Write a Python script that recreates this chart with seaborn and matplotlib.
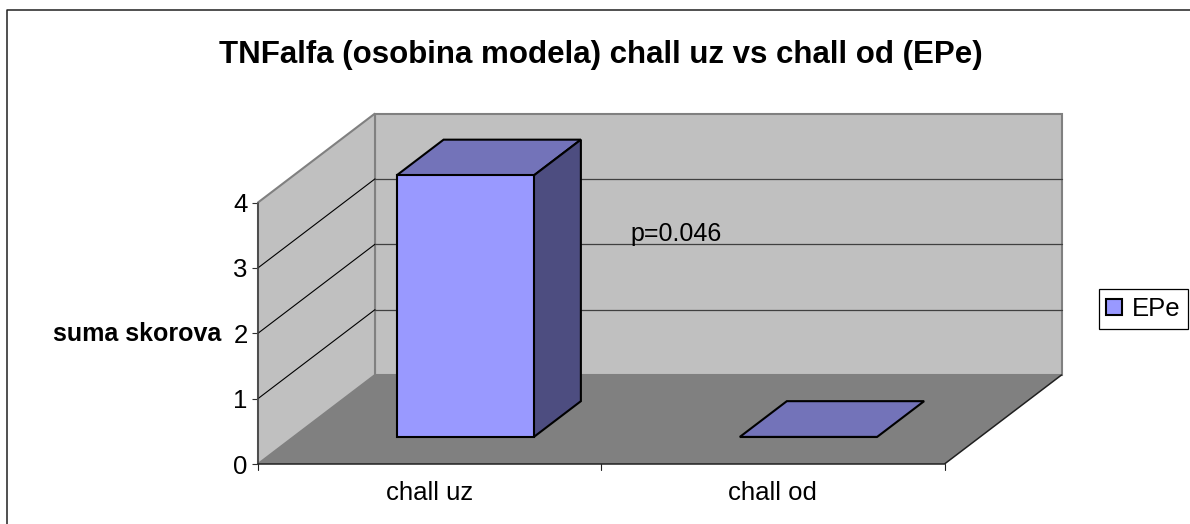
import matplotlib
matplotlib.use("Agg")
import matplotlib.pyplot as plt
from matplotlib.patches import Polygon, Rectangle
from matplotlib.lines import Line2D
from matplotlib.transforms import Affine2D
import seaborn as sns
import pandas as pd

categories = ["chall uz", "chall od"]
series_name = "EPe"
values = [4, 0]
y_ticks = [0, 1, 2, 3, 4]
title = "TNFalfa (osobina modela) chall uz vs chall od (EPe)"
y_label = "suma skorova"
note = "p=0.046"

W, H = 1190, 524
sns.set_theme(style="white")
plt.rcParams["font.family"] = ["Liberation Sans", "DejaVu Sans"]
fig = plt.figure(figsize=(W / 100, H / 100), dpi=100, facecolor="white")

# front plane of the 3D box, in pixels
L, R, B, T = 258, 944.5, 464, 202.5
ax = fig.add_axes([L / W, 1 - B / H, (R - L) / W, (B - T) / H])
ax.patch.set_alpha(0)
for s in ax.spines.values():
    s.set_visible(False)

df = pd.DataFrame({"cat": categories, "val": values, "series": series_name})
BAR_W = 0.4
sns.barplot(data=df, x="cat", y="val", color="#9999ff", saturation=1, width=BAR_W,
            edgecolor="black", linewidth=1.5, ax=ax, zorder=5, errorbar=None, legend=False)
ax.set_xlim(-0.5, 1.5)
ax.set_ylim(0, 4)

px_x = (R - L) / 2          # px per category
px_y = (B - T) / 4          # px per value
DX, DY = 117 / px_x, 89 / px_y   # box depth in data units
d0, d1 = 0.304, 0.706       # bar's front and back depth fraction


def pt(x, y, d):
    return (x + DX * d, y + DY * d)


def poly(points, fc, ec="none", lw=0, z=1):
    ax.add_patch(Polygon(points, closed=True, facecolor=fc, edgecolor=ec, linewidth=lw,
                         zorder=z, clip_on=False, joinstyle="miter"))


bars = [p for p in ax.patches if isinstance(p, Rectangle)]

x0, x1 = -0.5, 1.5
ytop = max(y_ticks)
# back wall, left wall, floor
poly([pt(x0, 0, 1), pt(x1, 0, 1), pt(x1, ytop, 1), pt(x0, ytop, 1)], "#c0c0c0", "#808080", 1.5, 1)
poly([pt(x0, 0, 0), pt(x0, 0, 1), pt(x0, ytop, 1), pt(x0, ytop, 0)], "#c0c0c0", "#808080", 1.5, 1.1)
poly([pt(x0, 0, 0), pt(x1, 0, 0), pt(x1, 0, 1), pt(x0, 0, 1)], "#808080", z=1.2)

# gridlines
for v in y_ticks[1:-1]:
    ax.plot(*zip(pt(x0, v, 0), pt(x0, v, 1)), color="black", lw=0.8, zorder=1.5, clip_on=False)
    ax.plot(*zip(pt(x0, v, 1), pt(x1, v, 1)), color="#404040", lw=0.9, zorder=1.5, clip_on=False)
# box edges
ax.plot(*zip(pt(x0, 0, 0), pt(x0, ytop, 0)), color="#404040", lw=1.1, zorder=1.6, clip_on=False)
ax.plot(*zip(pt(x0, 0, 0), pt(x1, 0, 0), pt(x1, 0, 1)), color="#202020", lw=1.1, zorder=1.6, clip_on=False)

# bars: shift the seaborn front faces into depth, add top and side faces
shift = Affine2D().translate(117 * d0, 89 * d0)
for bar in bars:
    bar.set_transform(ax.transData + shift)
    bar.set_clip_on(False)
    bar.set_zorder(5)
for i, v in enumerate(values):
    a, b = i - BAR_W / 2, i + BAR_W / 2
    poly([pt(a, v, d0), pt(b, v, d0), pt(b, v, d1), pt(a, v, d1)], "#7373b9", "black", 1.5, 4)
    if v > 0:
        poly([pt(b, 0, d0), pt(b, 0, d1), pt(b, v, d1), pt(b, v, d0)], "#4d4d80", "black", 1.5, 4)

# axes text
ax.set_yticks(y_ticks)
ax.tick_params(axis="both", which="major", length=4.5, width=0.8, color="#303030",
               labelsize=18.5, labelcolor="black", left=True, bottom=False)
ax.tick_params(axis="y", pad=3)
ax.tick_params(axis="x", pad=7.5)
for x in [-0.5, 0.5, 1.5]:
    ax.plot([x, x], [0, -6 / px_y], color="#202020", lw=0.8, clip_on=False, zorder=2)
ax.set_xlabel("")
ax.set_ylabel("")
fig.text(221 / W, 1 - 334 / H, y_label, fontweight="bold", fontsize=18, ha="right", va="center", color="black")
fig.text(600.5 / W, 1 - 55 / H, title, fontweight="bold", fontsize=22.5, ha="center", va="center", color="black")
fig.text(630 / W, 1 - 234 / H, note, fontsize=18, ha="left", va="center", color="black", zorder=10)

# legend
proxy = Rectangle((0, 0), 1, 1, facecolor="#9999ff", edgecolor="black", linewidth=1.5)
leg = fig.legend([proxy], [series_name], loc="center", bbox_to_anchor=(1143.5 / W, 1 - 309 / H),
                 fontsize=18.5, frameon=True, fancybox=False, edgecolor="black", framealpha=1,
                 borderpad=0.3, handlelength=0.6, handleheight=0.6, handletextpad=0.4,
                 borderaxespad=0, labelcolor="black")
leg.get_frame().set_linewidth(0.9)

# chart border: left and top edges only
fig.add_artist(Line2D([6.5 / W, 6.5 / W, 1], [0, 1 - 10 / H, 1 - 10 / H], transform=fig.transFigure,
                      color="#202020", linewidth=1.1))

fig.savefig("out.png", dpi=100)
